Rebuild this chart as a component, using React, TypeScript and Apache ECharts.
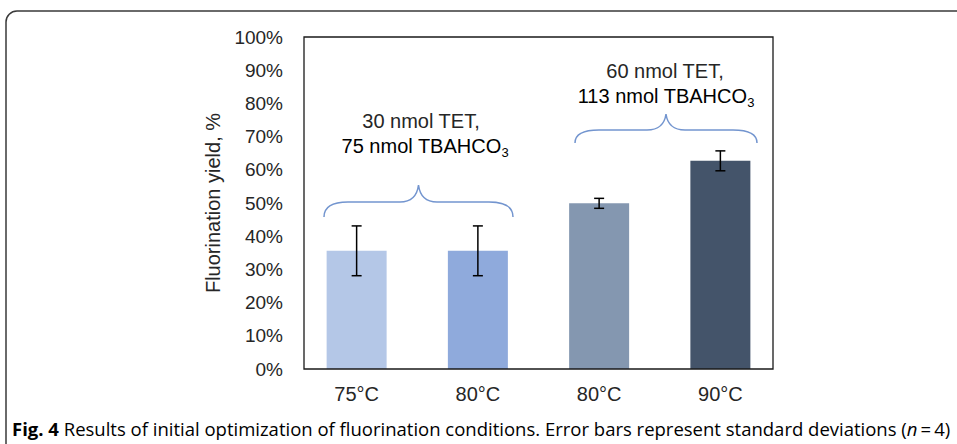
import React, { useEffect, useRef } from "react";
import * as echarts from "echarts";

// ---- data ----
const categories = ["75°C", "80°C", "80°C", "90°C"];
const yieldValues = [35.6, 35.6, 49.9, 62.7];
const yieldSD = [7.5, 7.5, 1.5, 3.0];
const barColors = ["#b4c7e7", "#8faadc", "#8497b0", "#44546a"];
const yMin = 0;
const yMax = 100;
const yStep = 10;
const yTitle = "Fluorination yield, %";
const groupLine1 = ["30 nmol TET,", "60 nmol TET,"];
const groupLine2 = ["75 nmol TBAHCO", "113 nmol TBAHCO"];
const groupSub = ["3", "3"];
const captionBold = "Fig. 4";
const captionBody =
  " Results of initial optimization of fluorination conditions. Error bars represent standard deviations (";
const captionEnd = "\u2009=\u20094)";

// ---- brace shapes ----
const braceA =
  "M0,32 C0,22 8,17 24,17 L76,17 C86,17 93,12 94.5,0 C96,12 103,17 113,17 L165,17 C181,17 189,22 189,32";
const braceB =
  "M0,29 C0,20 8,16 24,16 L72,16 C82,16 89.5,11 91,0 C92.5,11 100,16 110,16 L158,16 C174,16 182,20 182,29";
let registered = false;
function registerBraces() {
  if (registered) return;
  registered = true;
  echarts.graphic.registerShape("braceA", echarts.graphic.extendPath(braceA, {}));
  echarts.graphic.registerShape("braceB", echarts.graphic.extendPath(braceB, {}));
}

const FONT = "Liberation Sans, Arial, sans-serif";
const CAPFONT = "Open Sans, sans-serif";
const TXT = "#262626";
const CAPCOL = "#231f20";
const CAPSIZE = 18.5;

export default function App() {
  const ref = useRef<HTMLDivElement>(null);
  useEffect(() => {
    if (!ref.current) return;
    registerBraces();
    const chart = echarts.init(ref.current, undefined, { renderer: "svg" });
    const errData = categories.map((_, i) => [
      i,
      yieldValues[i] - yieldSD[i],
      yieldValues[i] + yieldSD[i],
    ]);
    const braceStyle = { stroke: "#7395cf", lineWidth: 1.5, fill: "none" };
    const subRich = {
      m: { fontSize: 20, lineHeight: 26, fontFamily: FONT, color: TXT },
      s: { fontSize: 13, lineHeight: 13, padding: [13, 0, 0, 0], fontFamily: FONT, color: TXT },
    };
    chart.setOption({
      animation: false,
      backgroundColor: "#ffffff",
      grid: { left: 296, right: 176, top: 37, bottom: 75, containLabel: false },
      xAxis: {
        type: "category",
        data: categories,
        axisLine: { show: false },
        axisTick: { show: false },
        axisLabel: { color: TXT, fontSize: 20, fontFamily: FONT, margin: 15 },
      },
      yAxis: {
        type: "value",
        min: yMin,
        max: yMax,
        interval: yStep,
        name: yTitle,
        nameLocation: "middle",
        nameGap: 73,
        nameTextStyle: { color: TXT, fontSize: 20, fontFamily: FONT },
        axisLine: { show: false },
        axisTick: { show: false },
        splitLine: { show: false },
        axisLabel: {
          color: TXT,
          fontSize: 19,
          fontFamily: FONT,
          margin: 13,
          formatter: "{value}%",
        },
      },
      series: [
        {
          type: "bar",
          barWidth: 60,
          data: yieldValues.map((v, i) => ({ value: v, itemStyle: { color: barColors[i] } })),
          z: 2,
        },
        {
          type: "custom",
          data: errData,
          z: 3,
          renderItem: (params: any, api: any) => {
            const lo = api.coord([api.value(0), api.value(1)]);
            const hi = api.coord([api.value(0), api.value(2)]);
            const x = lo[0];
            const cap = 5;
            const st = { stroke: "#000000", lineWidth: 1.5 };
            return {
              type: "group",
              children: [
                { type: "line", shape: { x1: x, y1: hi[1], x2: x, y2: lo[1] }, style: st },
                { type: "line", shape: { x1: x - cap, y1: hi[1], x2: x + cap, y2: hi[1] }, style: st },
                { type: "line", shape: { x1: x - cap, y1: lo[1], x2: x + cap, y2: lo[1] }, style: st },
              ],
            };
          },
        },
      ],
      graphic: [
        {
          type: "rect",
          shape: { x: 6, y: 11, width: 1100, height: 600, r: 11 },
          style: { stroke: "#3a3a3a", lineWidth: 1.5, fill: "none" },
          silent: true,
        },
        {
          type: "rect",
          shape: { x: 304, y: 37, width: 469, height: 332 },
          style: { stroke: "#1a1a1a", lineWidth: 1.3, fill: "none" },
          z: 10,
          silent: true,
        },
        { type: "braceA", x: 324, y: 185, style: braceStyle, silent: true },
        { type: "braceB", x: 575, y: 114, style: braceStyle, silent: true },
        {
          type: "text",
          x: 421,
          y: 121,
          style: { text: groupLine1[0], fontSize: 20, fontFamily: FONT, fill: TXT, align: "center", verticalAlign: "middle" },
        },
        {
          type: "text",
          x: 425,
          y: 146,
          style: {
            text: "{m|" + groupLine2[0] + "}{s|" + groupSub[0] + "}",
            rich: subRich,
            align: "center",
            verticalAlign: "middle",
          },
        },
        {
          type: "text",
          x: 665,
          y: 71,
          style: { text: groupLine1[1], fontSize: 20, fontFamily: FONT, fill: TXT, align: "center", verticalAlign: "middle" },
        },
        {
          type: "text",
          x: 666,
          y: 96,
          style: {
            text: "{m|" + groupLine2[1] + "}{s|" + groupSub[1] + "}",
            rich: subRich,
            align: "center",
            verticalAlign: "middle",
          },
        },
        {
          type: "text",
          x: 12,
          y: 428,
          style: {
            text: "{b|" + captionBold + "}{r|" + captionBody + "}{i|n}{r|" + captionEnd + "}",
            align: "left",
            verticalAlign: "middle",
            rich: {
              b: { fontSize: CAPSIZE, fontWeight: "bold", fontFamily: CAPFONT, color: CAPCOL },
              r: { fontSize: CAPSIZE, fontFamily: CAPFONT, color: CAPCOL },
              i: { fontSize: CAPSIZE, fontStyle: "italic", fontFamily: CAPFONT, color: CAPCOL },
            },
          },
        },
      ],
    });
    return () => chart.dispose();
  }, []);
  return (
    <div
      ref={ref}
      style={{ position: "absolute", left: 0, top: 0, width: 957, height: 444 }}
    />
  );
}
